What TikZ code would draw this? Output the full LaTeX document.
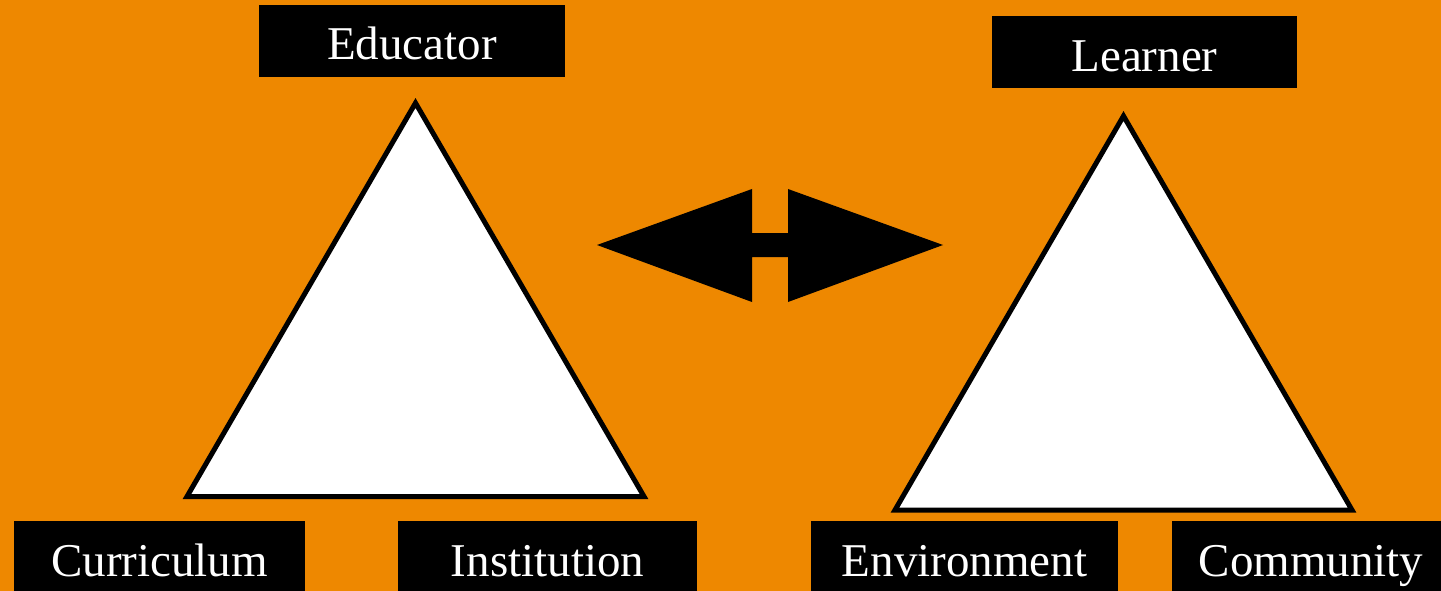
\documentclass[tikz,border=0pt]{standalone}
\usepackage{fontspec}
\setmainfont{Liberation Serif}
\definecolor{bgorange}{RGB}{238,136,0}

\begin{document}
\begin{tikzpicture}[x=1pt,y=-1pt,
    tag/.style={fill=black, text=white, inner sep=0pt, minimum height=72pt,
      text height=40pt, text depth=2pt, font=\fontsize{47}{56}\selectfont},
    tri/.style={draw=black, line width=5pt, fill=white}]
    \fill [bgorange] (0,0) rectangle (1441,591);
    \clip (0,0) rectangle (1441,591);
    \draw [tri] (415.5,103) -- (187,496.5) -- (644,496.5) -- cycle;
    \draw [tri] (1123.5,116) -- (895,510) -- (1352,510) -- cycle;
    \fill [black] (597,245) -- (752,189) -- (752,233) -- (788,233) -- (788,189)
      -- (943,245) -- (788,302) -- (788,257) -- (752,257) -- (752,302) -- cycle;
    \node [tag, minimum width=306pt] (educator) at (412,41) {Educator};
    \node [tag, minimum width=305pt] (learner) at (1144.5,52.5) {Learner};
    \node [tag, minimum width=291pt] (curriculum) at (159.5,557) {Curriculum};
    \node [tag, minimum width=299pt] (institution) at (547.5,557) {Institution};
    \node [tag, minimum width=307pt] (environment) at (964.5,557) {Environment};
    \node [tag, minimum width=278pt] (community) at (1311,557) {Community};
  \end{tikzpicture}
\end{document}
